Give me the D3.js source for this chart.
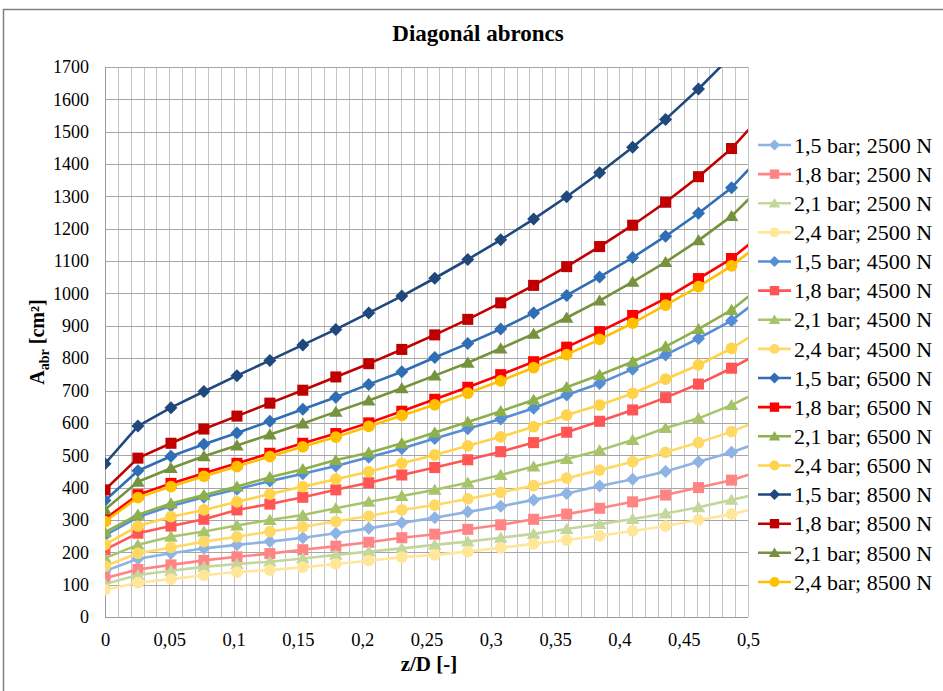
<!DOCTYPE html>
<html><head><meta charset="utf-8">
<script src="https://cdn.jsdelivr.net/npm/d3@7"></script>
<style>body{margin:0;background:#fff}svg{display:block}</style>
</head><body><svg id="c" width="943" height="691"></svg>
<script>
const xValues = [0, 0.0256, 0.0513, 0.0769, 0.1026, 0.1282, 0.1538, 0.1795, 0.2051, 0.2308, 0.2564, 0.2821, 0.3077, 0.3333, 0.3590, 0.3846, 0.4103, 0.4359, 0.4615, 0.4872, 0.5128];
const seriesNames = ["1,5 bar; 2500 N","1,8 bar; 2500 N","2,1 bar; 2500 N","2,4 bar; 2500 N","1,5 bar; 4500 N","1,8 bar; 4500 N","2,1 bar; 4500 N","2,4 bar; 4500 N","1,5 bar; 6500 N","1,8 bar; 6500 N","2,1 bar; 6500 N","2,4 bar; 6500 N","1,5 bar; 8500 N","1,8 bar; 8500 N","2,1 bar; 8500 N","2,4 bar; 8500 N"];
const s15_2500 = [142, 180, 197, 212, 223, 233, 245, 259, 274, 291, 307, 325, 342, 362, 382, 405, 426, 450, 480, 509, 545];
const s18_2500 = [120, 147, 161, 175, 186, 196, 208, 219, 231, 245, 256, 271, 285, 302, 318, 336, 356, 377, 400, 423, 455];
const s21_2500 = [102, 130, 143, 155, 164, 171, 181, 192, 202, 212, 223, 233, 245, 257, 272, 287, 303, 320, 339, 362, 385];
const s24_2500 = [84, 106, 117, 129, 139, 145, 154, 164, 174, 185, 192, 202, 214, 226, 238, 251, 266, 281, 300, 318, 342];
const s15_4500 = [252, 309, 343, 370, 395, 420, 443, 467, 494, 521, 552, 582, 612, 645, 686, 722, 766, 810, 861, 916, 995];
const s18_4500 = [208, 259, 281, 302, 331, 349, 370, 393, 415, 439, 462, 486, 511, 539, 571, 605, 640, 678, 720, 769, 825];
const s21_4500 = [182, 223, 248, 264, 283, 300, 315, 336, 356, 374, 393, 415, 439, 465, 488, 515, 547, 584, 614, 655, 705];
const s24_4500 = [157, 197, 215, 233, 248, 264, 279, 295, 312, 331, 346, 365, 385, 406, 429, 454, 480, 509, 539, 573, 615];
const s15_6500 = [360, 452, 497, 534, 569, 605, 642, 679, 719, 758, 802, 845, 890, 940, 994, 1051, 1111, 1177, 1248, 1327, 1435];
const s18_6500 = [303, 378, 413, 444, 475, 506, 537, 567, 600, 636, 673, 710, 749, 789, 834, 882, 932, 985, 1046, 1108, 1190];
const s21_6500 = [262, 316, 351, 377, 403, 432, 457, 485, 508, 537, 570, 603, 636, 671, 710, 748, 789, 836, 890, 949, 1030];
const s24_6500 = [224, 281, 310, 331, 356, 380, 403, 426, 449, 475, 501, 529, 557, 588, 624, 655, 691, 735, 779, 830, 895];
const s15_8500 = [474, 590, 647, 697, 746, 793, 841, 889, 940, 992, 1047, 1105, 1166, 1230, 1299, 1373, 1452, 1538, 1632, 1735, 1845];
const s18_8500 = [393, 491, 537, 581, 621, 661, 701, 742, 783, 827, 872, 920, 971, 1025, 1083, 1145, 1211, 1282, 1361, 1448, 1560];
const s21_8500 = [332, 418, 460, 497, 530, 564, 598, 634, 669, 707, 746, 786, 830, 875, 925, 978, 1036, 1097, 1164, 1239, 1340];
const s24_8500 = [295, 369, 403, 435, 465, 496, 526, 556, 589, 623, 656, 692, 730, 771, 811, 858, 908, 964, 1021, 1085, 1165];
const seriesValues = [s15_2500,s18_2500,s21_2500,s24_2500,s15_4500,s18_4500,s21_4500,s24_4500,s15_6500,s18_6500,s21_6500,s24_6500,s15_8500,s18_8500,s21_8500,s24_8500];
const seriesColors = ["#8DB4E2","#FF8585","#C3D69B","#FFE699","#558ED5","#FF5555","#A8C46B","#FFD966","#2F6DB5","#FF0000","#8DB04B","#FFD34A","#1F497D","#C00000","#76923C","#FFC000"];
const seriesShapes = ["diamond","square","triangle","circle","diamond","square","triangle","circle","diamond","square","triangle","circle","diamond","square","triangle","circle"];
const xTicks = [0,0.05,0.1,0.15,0.2,0.25,0.3,0.35,0.4,0.45,0.5];
const yTicks = [0,100,200,300,400,500,600,700,800,900,1000,1100,1200,1300,1400,1500,1600,1700];

const SERIF = "'Liberation Serif', 'Times New Roman', Tinos, serif";
const svg = d3.select("#c");
const L=105, R=748, T=67, B=617;
const x = d3.scaleLinear().domain([0,0.5]).range([L,R]);
const y = d3.scaleLinear().domain([0,1700]).range([B,T]);

svg.append("rect").attr("x",3.5).attr("y",9.5).attr("width",960).attr("height",700)
  .attr("fill","none").attr("stroke","#7f7f7f").attr("stroke-width",1.5);

svg.append("text").attr("x",478).attr("y",41).attr("text-anchor","middle")
  .style("font-family",SERIF).style("font-size","23px").style("font-weight","bold").text("Diagonál abroncs");

const grid = svg.append("g");
const minor = d3.range(0,51).map(d=>d/100);
grid.selectAll("line.v").data(minor).join("line")
  .attr("x1",d=>Math.round(x(d))+0.5).attr("x2",d=>Math.round(x(d))+0.5).attr("y1",T).attr("y2",B)
  .attr("stroke","#c4c4c4").attr("stroke-width",1);
grid.selectAll("line.h").data(yTicks).join("line")
  .attr("x1",L).attr("x2",R).attr("y1",d=>Math.round(y(d))+0.5).attr("y2",d=>Math.round(y(d))+0.5)
  .attr("stroke","#a6a6a6").attr("stroke-width",1);
svg.append("line").attr("x1",L+0.5).attr("x2",L+0.5).attr("y1",T).attr("y2",B).attr("stroke","#9a9a9a");
svg.append("line").attr("x1",L).attr("x2",R).attr("y1",B+0.5).attr("y2",B+0.5).attr("stroke","#9a9a9a");

const yAxis = svg.append("g").attr("transform",`translate(${L},0)`)
  .call(d3.axisLeft(y).tickValues(yTicks).tickSize(0).tickPadding(16).tickFormat(d3.format("d")));
yAxis.select(".domain").remove();
yAxis.selectAll("text").style("font-family",SERIF).style("font-size","18px").attr("fill","#000");
const fmt = d => String(d).replace(".",",");
const xAxis = svg.append("g").attr("transform",`translate(0,${B})`)
  .call(d3.axisBottom(x).tickValues(xTicks).tickSize(0).tickPadding(16).tickFormat(fmt));
xAxis.select(".domain").remove();
xAxis.selectAll("text").style("font-family",SERIF).style("font-size","18.5px").attr("fill","#000");

svg.append("text").attr("x",429).attr("y",671).attr("text-anchor","middle")
  .style("font-family",SERIF).style("font-size","21px").style("font-weight","bold").text("z/D [-]");
const yt = svg.append("text").attr("transform","translate(44,342) rotate(-90)").attr("text-anchor","middle")
  .style("font-family",SERIF).style("font-size","20px").style("font-weight","bold");
yt.append("tspan").text("A");
yt.append("tspan").style("font-size","14px").attr("dy",5).text("abr");
yt.append("tspan").attr("dy",-5).text(" [cm²]");

function markerPath(shape, s){
  if(shape==="diamond") return `M0,${-s}L${s},0L0,${s}L${-s},0Z`;
  if(shape==="square") { const h=s*0.85; return `M${-h},${-h}H${h}V${h}H${-h}Z`; }
  if(shape==="triangle") { const h=s*0.95; return `M0,${-h}L${h*1.1},${h*0.8}L${-h*1.1},${h*0.8}Z`; }
  const r=s*0.9; return `M${r},0A${r},${r} 0 1,1 ${-r},0A${r},${r} 0 1,1 ${r},0Z`;
}

svg.append("clipPath").attr("id","pc").append("rect").attr("x",L).attr("y",T).attr("width",R-L).attr("height",B-T);
const plot = svg.append("g").attr("clip-path","url(#pc)");
const line = d3.line().x((d,i)=>x(xValues[i])).y(d=>y(d));
seriesValues.forEach((vals,k)=>{
  const g = plot.append("g");
  g.append("path").attr("d",line(vals)).attr("fill","none").attr("stroke",seriesColors[k]).attr("stroke-width",2.6).attr("stroke-linejoin","round");
  g.selectAll("path.m").data(vals).join("path").attr("class","m")
    .attr("transform",(d,i)=>`translate(${x(xValues[i])},${y(d)})`)
    .attr("d",markerPath(seriesShapes[k],6.5)).attr("fill",seriesColors[k]);
});

const lg = svg.append("g");
seriesNames.forEach((name,k)=>{
  const yy = 145 + k*29.13;
  lg.append("line").attr("x1",758).attr("x2",791).attr("y1",yy).attr("y2",yy).attr("stroke",seriesColors[k]).attr("stroke-width",2.6);
  lg.append("path").attr("transform",`translate(774.5,${yy})`).attr("d",markerPath(seriesShapes[k],5.5)).attr("fill",seriesColors[k]);
  lg.append("text").attr("x",794).attr("y",yy).attr("dy","0.35em")
    .style("font-family",SERIF).style("font-size","22px").text(name);
});
</script></body></html>
